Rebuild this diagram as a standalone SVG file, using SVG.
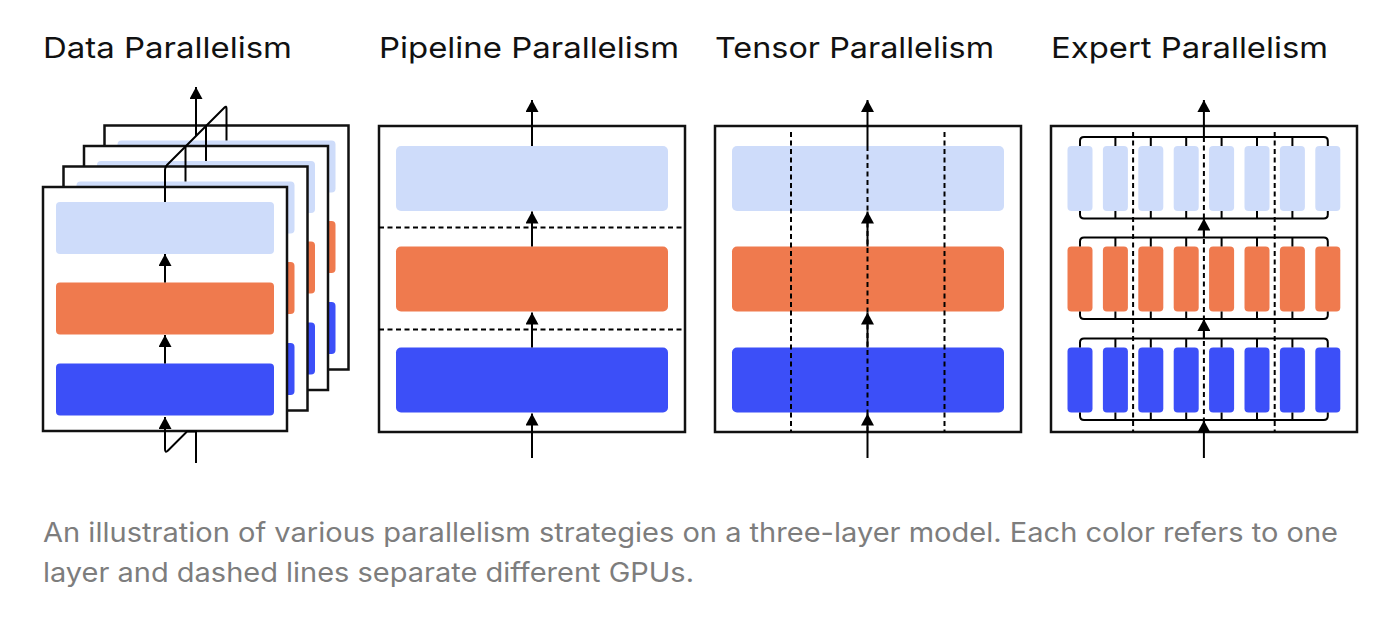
<svg xmlns="http://www.w3.org/2000/svg" width="1400" height="622" viewBox="0 0 1400 622">
<defs>
<style>
.title{font-family:Inter,"Liberation Sans",sans-serif;font-size:29px;fill:#111;}
.cap{font-family:Inter,"Liberation Sans",sans-serif;font-size:26.5px;fill:#7d7d7d;}
.box{fill:#fff;stroke:#111;stroke-width:2.5;}
.l1{fill:#CEDCFA;}
.l2{fill:#EF7A4E;}
.l3{fill:#3C4FF8;}
.ln{fill:none;stroke:#000;stroke-width:2;}
.ar{fill:none;stroke:#000;stroke-width:2;marker-end:url(#ah);}
.dash{fill:none;stroke:#000;stroke-width:2;stroke-dasharray:5 3.5;}
</style>
<marker id="ah" viewBox="0 0 12 13" refX="12" refY="6.5" markerWidth="12" markerHeight="13" orient="auto" markerUnits="userSpaceOnUse"><path d="M0,0 L12,6.5 L0,13 Z" fill="#000"/></marker>
<g id="dpBox">
<rect class="box" x="0" y="0" width="244" height="244"/>
<rect class="l1" x="13" y="15" width="218" height="52" rx="4"/>
<rect class="l2" x="13" y="95.5" width="218" height="52" rx="4"/>
<rect class="l3" x="13" y="176.5" width="218" height="52" rx="4"/>
</g>
<g id="exRow">
<rect x="0" y="0" width="25" height="65" rx="4"/>
<rect x="35.4" y="0" width="25" height="65" rx="4"/>
<rect x="70.8" y="0" width="25" height="65" rx="4"/>
<rect x="106.2" y="0" width="25" height="65" rx="4"/>
<rect x="141.6" y="0" width="25" height="65" rx="4"/>
<rect x="177" y="0" width="25" height="65" rx="4"/>
<rect x="212.4" y="0" width="25" height="65" rx="4"/>
<rect x="247.8" y="0" width="25" height="65" rx="4"/>
</g>
<path id="exBus" d="M12.5,0 V-5 Q12.5,-9 16.5,-9 H256.3 Q260.3,-9 260.3,-5 V0 M47.9,0 V-9 M83.3,0 V-9 M118.7,0 V-9 M154.1,0 V-9 M189.5,0 V-9 M224.9,0 V-9 M12.5,65 V68.5 Q12.5,72.5 16.5,72.5 H256.3 Q260.3,72.5 260.3,68.5 V65 M47.9,65 V72.5 M83.3,65 V72.5 M118.7,65 V72.5 M154.1,65 V72.5 M189.5,65 V72.5 M224.9,65 V72.5"/>
</defs>

<g id="titles">
<text class="title" x="43" y="58" textLength="249" lengthAdjust="spacingAndGlyphs">Data Parallelism</text>
<text class="title" x="379" y="58" textLength="300" lengthAdjust="spacingAndGlyphs">Pipeline Parallelism</text>
<text class="title" x="715" y="58" textLength="279" lengthAdjust="spacingAndGlyphs">Tensor Parallelism</text>
<text class="title" x="1051" y="58" textLength="277" lengthAdjust="spacingAndGlyphs">Expert Parallelism</text>
</g>

<g id="data-parallelism">
<use href="#dpBox" x="104.5" y="125.5"/>
<use href="#dpBox" x="84" y="146"/>
<use href="#dpBox" x="63.5" y="166.5"/>
<use href="#dpBox" x="43" y="187"/>
</g>

<g id="pipeline-parallelism">
<rect class="box" x="379" y="126" width="306" height="306"/>
<rect class="l1" x="396" y="146" width="272" height="65" rx="5"/>
<rect class="l2" x="396" y="246.5" width="272" height="65" rx="5"/>
<rect class="l3" x="396" y="347.5" width="272" height="65" rx="5"/>
</g>

<g id="tensor-parallelism">
<rect class="box" x="715" y="126" width="306" height="306"/>
<rect class="l1" x="732" y="146" width="272" height="65" rx="5"/>
<rect class="l2" x="732" y="246.5" width="272" height="65" rx="5"/>
<rect class="l3" x="732" y="347.5" width="272" height="65" rx="5"/>
</g>

<g id="expert-parallelism">
<rect class="box" x="1051" y="126" width="306" height="306"/>
<use href="#exRow" class="l1" x="1067.5" y="146"/>
<use href="#exRow" class="l2" x="1067.5" y="246.5"/>
<use href="#exRow" class="l3" x="1067.5" y="347.5"/>
</g>

<g id="connectors">
<!-- data parallelism -->
<path class="ln" d="M165,202 V170 Q165,167 167,165 L224.5,107.5 Q226.5,105.5 226.5,108.5 V140.5"/>
<path class="ln" d="M185.5,181.5 V146.5"/>
<path class="ln" d="M206,161 V126"/>
<path class="ar" d="M196,136 V87"/>
<path class="ar" d="M165,282.5 V254"/>
<path class="ar" d="M165,363.5 V335"/>
<path class="ar" d="M196,463 V431.5 H187 L168,450.5 Q165,453.5 165,449 V417"/>
<!-- pipeline -->
<path class="dash" d="M379,227.5 H685 M379,329.5 H685"/>
<path class="ar" d="M532,146 V100"/>
<path class="ar" d="M532,246.5 V211.5"/>
<path class="ar" d="M532,347.5 V312.5"/>
<path class="ar" d="M532,458 V413.5"/>
<!-- tensor -->
<path class="dash" d="M791,132 V432 M944.5,132 V432 M867.5,146 V432"/>
<path class="ar" d="M867.5,146 V100"/>
<path class="ar" d="M867.5,246.5 V211.5"/>
<path class="ar" d="M867.5,347.5 V312.5"/>
<path class="ar" d="M867.5,458 V413.5"/>
<!-- expert -->
<use href="#exBus" class="ln" x="1067.5" y="146"/>
<use href="#exBus" class="ln" x="1067.5" y="246.5"/>
<use href="#exBus" class="ln" x="1067.5" y="347.5"/>
<path class="dash" d="M1133.1,132 V432 M1274.7,132 V432 M1203.9,137 V432"/>
<path class="ar" d="M1203.9,137 V100"/>
<path class="ar" d="M1203.9,237.5 V218.5"/>
<path class="ar" d="M1203.9,338.5 V319"/>
<path class="ar" d="M1203.9,458 V420.5"/>
</g>

<g id="caption">
<text class="cap" x="43" y="541.5" textLength="1295" lengthAdjust="spacingAndGlyphs">An illustration of various parallelism strategies on a three-layer model. Each color refers to one</text>
<text class="cap" x="43" y="581.5" textLength="651" lengthAdjust="spacingAndGlyphs">layer and dashed lines separate different GPUs.</text>
</g>
</svg>
